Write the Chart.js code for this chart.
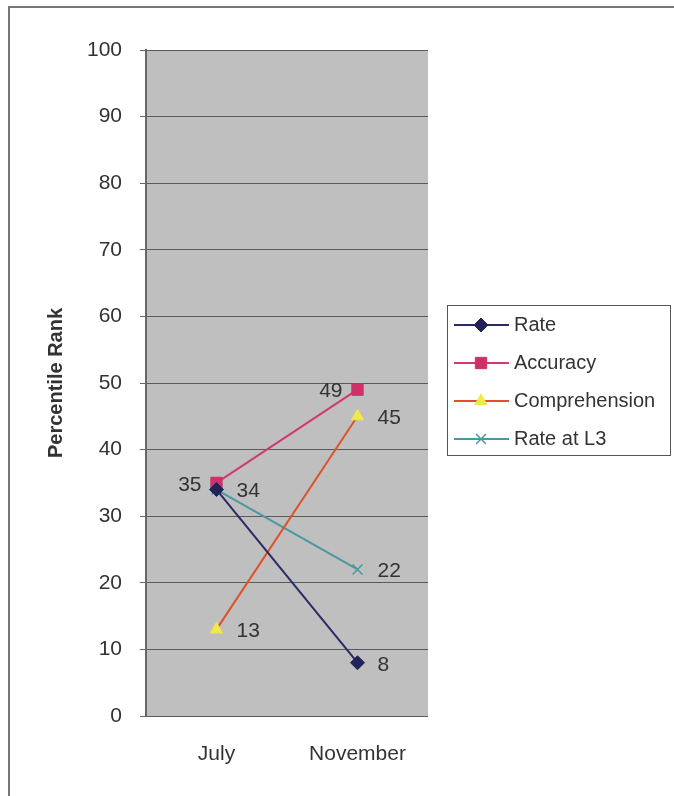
<!DOCTYPE html>
<html lang="en">
<head>
  <meta charset="UTF-8">
  <title>Percentile Rank</title>
  <script src="https://cdn.jsdelivr.net/npm/chart.js"></script>
  <style>
    body { margin: 0; background: white; font-family: "Liberation Sans", Arial, sans-serif; }
    .frame {
      position: absolute; left: 8px; top: 6px; width: 700px; height: 800px;
      border-left: 2px solid #777; border-top: 2px solid #777;
    }
    .wrap { position: absolute; left: 0; top: 0; width: 674px; height: 796px; }
  </style>
</head>
<body>
  <div class="frame"></div>
  <div class="wrap"><canvas id="chart" width="674" height="796"></canvas></div>
  <script>
    // months and percentile ranks
    const months = ['July', 'November'];
    const rate = [34, 8];
    const accuracy = [35, 49];
    const comprehension = [13, 45];
    const rateL3 = [34, 22];
    // where each value label goes: 'l' left, 'r' right, null = not shown
    const ratePos = [null, 'r'];
    const accuracyPos = ['l', 'l'];
    const comprehensionPos = ['r', 'r'];
    const rateL3Pos = ['r', 'r'];

    const FONT = '"Liberation Sans", Arial, sans-serif';

    const plotBg = {
      id: 'plotBg',
      beforeDraw(chart) {
        const a = chart.chartArea, c = chart.ctx;
        c.save();
        c.fillStyle = '#bfbfbf';
        c.fillRect(a.left, a.top, a.right - a.left, a.bottom - a.top);
        c.restore();
      }
    };

    const valueLabels = {
      id: 'valueLabels',
      afterDatasetsDraw(chart) {
        const c = chart.ctx;
        c.save();
        c.font = '21px ' + FONT;
        c.fillStyle = '#333';
        c.textBaseline = 'middle';
        chart.data.datasets.forEach((ds, i) => {
          chart.getDatasetMeta(i).data.forEach((pt, j) => {
            const p = ds.labelPos[j];
            if (!p) return;
            c.textAlign = p === 'l' ? 'right' : 'left';
            const x = p === 'l' ? pt.x - 15 : pt.x + 20;
            c.fillText(String(ds.data[j]), x, pt.y + 2);
          });
        });
        c.restore();
      }
    };

    const boxLegend = {
      id: 'boxLegend',
      afterDraw(chart) {
        const c = chart.ctx;
        const x0 = 447, y0 = 305, w = 223, h = 150;
        c.save();
        c.fillStyle = 'white';
        c.fillRect(x0, y0, w, h);
        c.strokeStyle = '#555';
        c.lineWidth = 1;
        c.strokeRect(x0 + 0.5, y0 + 0.5, w, h);
        c.font = '20px ' + FONT;
        c.textBaseline = 'middle';
        c.textAlign = 'left';
        chart.data.datasets.forEach((ds, i) => {
          const y = y0 + 20 + i * 38;
          c.strokeStyle = ds.borderColor;
          c.lineWidth = 2;
          c.beginPath();
          c.moveTo(x0 + 7, y);
          c.lineTo(x0 + 62, y);
          c.stroke();
          c.fillStyle = ds.pointBackgroundColor;
          c.strokeStyle = ds.pointBorderColor;
          c.lineWidth = ds.pointBorderWidth;
          Chart.helpers.drawPoint(c, {
            pointStyle: ds.pointStyle, radius: ds.pointRadius, borderWidth: ds.pointBorderWidth
          }, x0 + 34, y);
          c.fillStyle = '#333';
          c.fillText(ds.label, x0 + 67, y);
        });
        c.restore();
      }
    };

    function series(label, data, pos, line, fill, style, r) {
      return {
        label, data, labelPos: pos,
        borderColor: line, borderWidth: 2,
        pointStyle: style, pointRadius: r, pointHoverRadius: r,
        pointBackgroundColor: fill, pointBorderColor: fill,
        pointBorderWidth: style === 'crossRot' ? 1.5 : 1,
        tension: 0
      };
    }

    new Chart(document.getElementById('chart'), {
      type: 'line',
      data: {
        labels: months,
        datasets: [
          series('Rate', rate, ratePos, '#2a2a66', '#22225a', 'rectRot', 7),
          series('Accuracy', accuracy, accuracyPos, '#d03a74', '#d0306a', 'rect', 8),
          series('Comprehension', comprehension, comprehensionPos, '#e0502a', '#f2e84a', 'triangle', 7),
          series('Rate at L3', rateL3, rateL3Pos, '#4a98a0', '#4a98a0', 'crossRot', 7)
        ]
      },
      options: {
        responsive: false,
        animation: false,
        layout: { padding: { left: 0, top: 50, right: 246, bottom: 0 } },
        plugins: { legend: { display: false }, tooltip: { enabled: false } },
        scales: {
          x: {
            offset: true,
            grid: { display: false },
            border: { display: false },
            ticks: { color: '#333', font: { size: 21, family: FONT }, padding: 18 },
            afterFit(s) { s.height = 80; }
          },
          y: {
            min: 0, max: 100,
            ticks: { stepSize: 10, color: '#333', padding: 18, font: { size: 21, family: FONT } },
            grid: { color: '#5a5a5a', lineWidth: 1, tickLength: 6, tickColor: '#666' },
            border: { color: '#666', width: 2 },
            title: {
              display: true, text: 'Percentile Rank', color: '#333',
              padding: { top: 44, bottom: 0 },
              font: { size: 20, weight: 'bold', family: FONT }
            },
            afterFit(s) { s.width = 146; }
          }
        }
      },
      plugins: [plotBg, valueLabels, boxLegend]
    });
  </script>
</body>
</html>
